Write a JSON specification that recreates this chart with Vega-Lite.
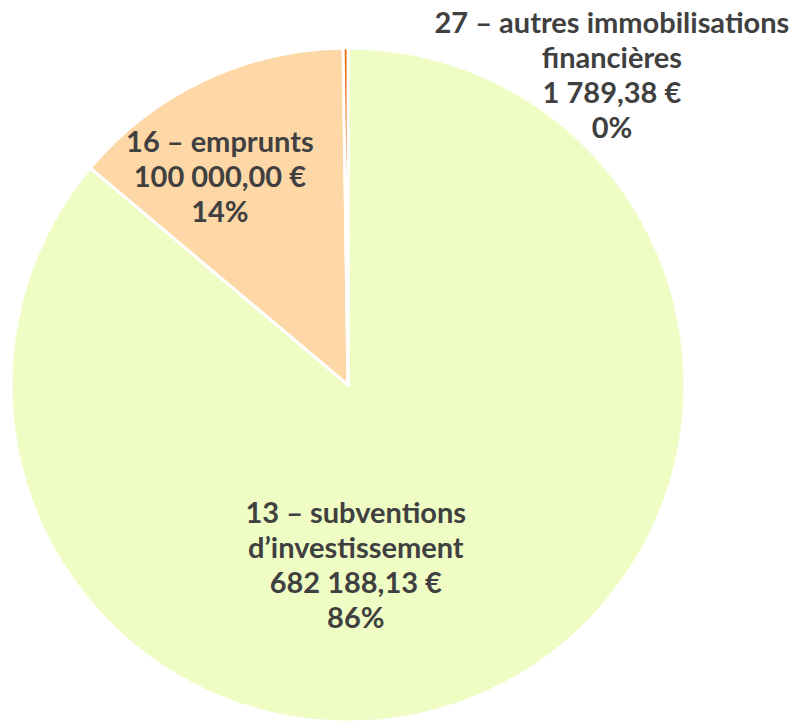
{
  "$schema": "https://vega.github.io/schema/vega-lite/v6.json",
  "width": 676,
  "height": 674,
  "autosize": {"type": "none"},
  "padding": {"left": 10, "top": 48, "right": 112, "bottom": 0},
  "background": "white",
  "view": {"stroke": null},
  "data": {
    "values": [
      {"ordre": 1, "compte": "13 – subventions d’investissement", "part": 86.14, "label": "13 – subventions\nd’investissement\n682 188,13 €\n86%"},
      {"ordre": 2, "compte": "16 – emprunts", "part": 13.63, "label": "16 – emprunts\n100 000,00 €\n14%"},
      {"ordre": 3, "compte": "27 – autres immobilisations financières", "part": 0.23, "label": "27 – autres immobilisations\nfinancières\n1 789,38 €\n0%"}
    ]
  },
  "encoding": {
    "theta": {"field": "part", "type": "quantitative", "stack": true},
    "order": {"field": "ordre", "type": "quantitative"}
  },
  "layer": [
    {
      "mark": {"type": "arc", "stroke": "white", "strokeWidth": 3},
      "encoding": {
        "color": {
          "field": "compte",
          "type": "nominal",
          "scale": {
            "domain": ["13 – subventions d’investissement", "16 – emprunts", "27 – autres immobilisations financières"],
            "range": ["#EFFDC5", "#FED7A6", "#E46C0A"]
          },
          "legend": null
        }
      }
    },
    {
      "transform": [{"filter": "datum.ordre == 1"}],
      "mark": {"type": "text", "radius": 182, "dx": -69, "dy": -36, "font": "Lato", "fontWeight": "bold", "fontSize": 29, "lineHeight": 35, "lineBreak": "\n", "align": "center", "baseline": "middle", "color": "#404040"},
      "encoding": {"text": {"field": "label"}}
    },
    {
      "transform": [{"filter": "datum.ordre == 2"}],
      "mark": {"type": "text", "radius": 243, "dx": -229, "dy": -21, "font": "Lato", "fontWeight": "bold", "fontSize": 29, "lineHeight": 35, "lineBreak": "\n", "align": "center", "baseline": "middle", "color": "#404040"},
      "encoding": {"text": {"field": "label"}}
    },
    {
      "transform": [{"filter": "datum.ordre == 3"}],
      "mark": {"type": "text", "radius": 406, "dx": 261, "dy": 45, "font": "Lato", "fontWeight": "bold", "fontSize": 29, "lineHeight": 35, "lineBreak": "\n", "align": "center", "baseline": "middle", "color": "#404040"},
      "encoding": {"text": {"field": "label"}}
    }
  ]
}
